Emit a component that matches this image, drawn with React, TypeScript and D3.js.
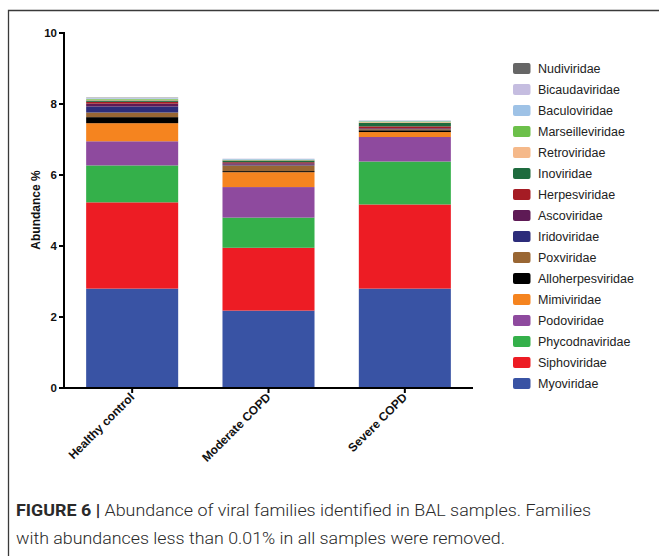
import React from "react";
import * as d3 from "d3";

const groups = ["Healthy control", "Moderate COPD", "Severe COPD"];
// stack order, bottom to top
const families = [
  "Myoviridae", "Siphoviridae", "Phycodnaviridae", "Podoviridae", "Mimiviridae",
  "Alloherpesviridae", "Poxviridae", "Iridoviridae", "Ascoviridae", "Herpesviridae",
  "Inoviridae", "Retroviridae", "Marseilleviridae", "Baculoviridae", "Bicaudaviridae", "Nudiviridae",
];
const familyColors = [
  "#3953a4", "#ed1c24", "#34b04a", "#8e4a9e", "#f5841f",
  "#000000", "#996633", "#2c2c7a", "#5e1a55", "#a51c24",
  "#1e6b3e", "#f5b98a", "#6cc04a", "#9ec2e6", "#c5bde0", "#666666",
];
const healthyValues = [2.80, 2.43, 1.04, 0.68, 0.51, 0.17, 0.13, 0.17, 0.08, 0.05, 0.04, 0.02, 0.02, 0.02, 0.01, 0.01];
const moderateValues = [2.18, 1.77, 0.85, 0.86, 0.42, 0.03, 0.16, 0.02, 0.04, 0.03, 0.05, 0.01, 0.01, 0.02, 0.01, 0.0];
const severeValues = [2.80, 2.37, 1.21, 0.69, 0.14, 0.05, 0.03, 0.01, 0.02, 0.05, 0.10, 0.02, 0.02, 0.02, 0.01, 0.0];
const yTicks = [0, 2, 4, 6, 8, 10];

const seriesValues = [healthyValues, moderateValues, severeValues];

export default function App() {
  const x = d3.scaleBand<string>().domain(groups).range([64, 473]).paddingInner(0.325).paddingOuter(0.1625);
  const y = d3.scaleLinear().domain([0, 10]).range([388, 33]);

  const rows = groups.map((g, gi) => {
    const r: any = { group: g };
    families.forEach((f, fi) => (r[f] = seriesValues[gi][fi]));
    return r;
  });
  const stacked = d3.stack<any>().keys(families)(rows);
  const legendFamilies = families.slice().reverse();
  const legendY = d3.scalePoint<string>().domain(legendFamilies).range([68.5, 383.5]);
  const font = "Arial, 'Liberation Sans', Helvetica, sans-serif";

  return (
    <svg width={659} height={556} style={{ position: "absolute", left: 0, top: 0 }} fontFamily={font}>
      <rect width={659} height={556} fill="#fff" />
      <path d="M8.5,556 V10.5 H659" fill="none" stroke="#3a3a3a" strokeWidth={1.3} />

      {stacked.map((s, si) => (
        <g key={families[si]} fill={familyColors[si]}>
          {s.map((d: any, i) => (
            <rect
              key={i}
              x={x(groups[i])}
              width={x.bandwidth()}
              y={y(d[1])}
              height={Math.max(0, y(d[0]) - y(d[1]))}
            />
          ))}
        </g>
      ))}

      {/* y axis */}
      <line x1={64} x2={64} y1={32} y2={389} stroke="#000" strokeWidth={2} />
      {yTicks.map((t) => (
        <g key={t}>
          <line x1={59} x2={64} y1={y(t)} y2={y(t)} stroke="#000" strokeWidth={2} />
          <text x={57} y={y(t)} dy="0.35em" textAnchor="end" fontSize={11.5} fontWeight="bold" fill="#111">
            {t}
          </text>
        </g>
      ))}
      <text transform="translate(40,210) rotate(-90)" textAnchor="middle" fontSize={12} fontWeight="bold" fill="#111">
        Abundance %
      </text>

      {/* x axis */}
      <line x1={63} x2={473} y1={388} y2={388} stroke="#000" strokeWidth={2} />
      {groups.map((g) => {
        const cx = (x(g) as number) + x.bandwidth() / 2;
        return (
          <g key={g}>
            <line x1={cx} x2={cx} y1={388} y2={393} stroke="#000" strokeWidth={2} />
            <text
              transform={`translate(${cx + 3},${398}) rotate(-45)`}
              textAnchor="end"
              fontSize={12}
              fontWeight="bold"
              fill="#111"
            >
              {g}
            </text>
          </g>
        );
      })}

      {/* legend */}
      {legendFamilies.map((f) => {
        const fi = families.indexOf(f);
        const cy = legendY(f) as number;
        return (
          <g key={f}>
            <rect x={513} y={cy - 5.5} width={17.5} height={11} rx={2} fill={familyColors[fi]} />
            <text x={538} y={cy} dy="0.36em" fontSize={12.5} fill="#222">
              {f}
            </text>
          </g>
        );
      })}

      {/* caption */}
      <text x={16} y={516} fontSize={17} fill="#2a2a2a" fontFamily="Roboto, Arial, sans-serif" fontWeight={300} textLength={575} lengthAdjust="spacingAndGlyphs">
        <tspan fontWeight="bold">FIGURE 6 |</tspan> Abundance of viral families identified in BAL samples. Families
      </text>
      <text x={16} y={544} fontSize={17} fill="#2a2a2a" fontFamily="Roboto, Arial, sans-serif" fontWeight={300} textLength={489} lengthAdjust="spacingAndGlyphs">
        with abundances less than 0.01% in all samples were removed.
      </text>
    </svg>
  );
}
